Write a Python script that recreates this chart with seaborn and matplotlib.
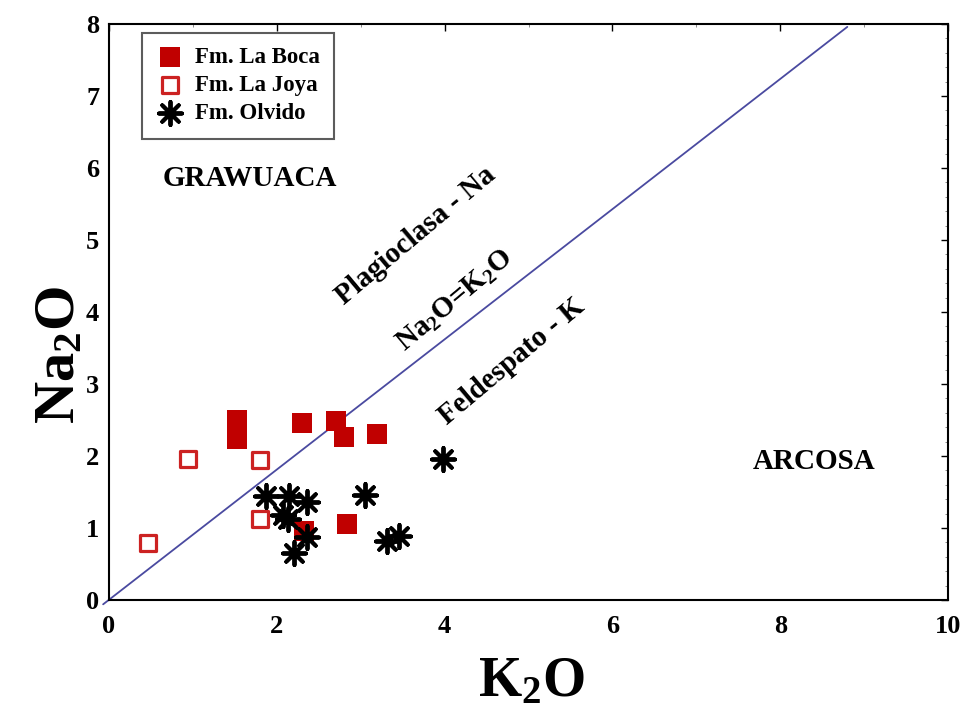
import matplotlib
matplotlib.use("Agg")
import matplotlib.pyplot as plt
import seaborn as sns
import pandas as pd
from matplotlib.ticker import MultipleLocator

# ---- data ----
boca_k2o = [1.53, 1.53, 2.30, 2.71, 2.80, 3.19, 2.32, 2.84]
boca_na2o = [2.50, 2.23, 2.46, 2.48, 2.27, 2.31, 0.96, 1.05]

joya_k2o = [0.94, 1.80, 1.80, 0.46]
joya_na2o = [1.96, 1.95, 1.12, 0.79]

olvido_k2o = [1.87, 2.14, 2.36, 3.05, 3.98, 2.07, 2.13, 2.36, 2.21, 3.31, 3.46]
olvido_na2o = [1.44, 1.45, 1.36, 1.46, 1.96, 1.18, 1.12, 0.87, 0.65, 0.82, 0.89]

line_k2o = [-0.07, 8.80]
line_na2o = [-0.06, 7.96]

x_ticks = [0, 2, 4, 6, 8, 10]
y_ticks = [0, 1, 2, 3, 4, 5, 6, 7, 8]

series_names = ["Fm. La Boca", "Fm. La Joya", "Fm. Olvido"]

sns.set_theme(style="white")
plt.rcParams["font.family"] = ["Liberation Serif", "DejaVu Serif"]
plt.rcParams["font.weight"] = "bold"
plt.rcParams["text.color"] = "black"
plt.rcParams["axes.labelcolor"] = "black"
plt.rcParams["xtick.color"] = "black"
plt.rcParams["ytick.color"] = "black"
plt.rcParams["xtick.labelcolor"] = "black"
plt.rcParams["ytick.labelcolor"] = "black"
plt.rcParams["mathtext.fontset"] = "custom"
plt.rcParams["mathtext.rm"] = "Liberation Serif:bold"
plt.rcParams["mathtext.it"] = "Liberation Serif:bold"
plt.rcParams["mathtext.bf"] = "Liberation Serif:bold"
plt.rcParams["mathtext.default"] = "rm"

fig = plt.figure(figsize=(9.65, 7.09), dpi=100)
ax = fig.add_axes([109 / 965, 1 - 600 / 709, (948 - 109) / 965, (600 - 24) / 709])

df_line = pd.DataFrame({"K2O": line_k2o, "Na2O": line_na2o})
sns.lineplot(data=df_line, x="K2O", y="Na2O", ax=ax, color="#4a4aa0",
             linewidth=1.3, sort=False, clip_on=False, zorder=2)

df_boca = pd.DataFrame({"K2O": boca_k2o, "Na2O": boca_na2o})
df_joya = pd.DataFrame({"K2O": joya_k2o, "Na2O": joya_na2o})
df_olv = pd.DataFrame({"K2O": olvido_k2o, "Na2O": olvido_na2o})

sns.scatterplot(data=df_boca, x="K2O", y="Na2O", ax=ax, marker="s", s=210,
                color="#c00000", edgecolor="#c00000", linewidth=0,
                label=series_names[0], zorder=3)
sns.scatterplot(data=df_joya, x="K2O", y="Na2O", ax=ax, marker="s", s=140,
                facecolor="white", edgecolor="#cc2222", linewidth=2.3,
                label=series_names[1], zorder=3)
sns.scatterplot(data=df_olv, x="K2O", y="Na2O", ax=ax, marker=(8, 2, 0), s=280,
                color="black", edgecolor="black", linewidth=2.8,
                label=series_names[2], zorder=4)

ax.set_xlim(0, 10)
ax.set_ylim(0, 8)
ax.set_xticks(x_ticks)
ax.set_yticks(y_ticks)
ax.xaxis.set_minor_locator(MultipleLocator(1))
ax.yaxis.set_minor_locator(MultipleLocator(0.2))
ax.tick_params(axis="both", which="major", direction="in", length=5, width=1,
               labelsize=19, top=True, right=True, color="black",
               labelcolor="black")
ax.tick_params(axis="both", which="minor", direction="in", length=2.5, width=0.6,
               top=True, right=True, color="#777777")
ax.tick_params(axis="x", which="major", pad=11)
ax.tick_params(axis="y", which="major", pad=7)
for lab in ax.get_xticklabels() + ax.get_yticklabels():
    lab.set_fontweight("bold")

for sp in ax.spines.values():
    sp.set_color("black")
    sp.set_linewidth(1.5)

ax.set_xlabel("K$_2$O", fontsize=40, fontweight="bold", va="center", color="black")
ax.set_ylabel("Na$_2$O", fontsize=42, fontweight="bold", va="center", color="black")
ax.xaxis.set_label_coords(0.504, -0.142)
ax.yaxis.set_label_coords(-0.058, 0.425)

txt = dict(fontsize=21, fontweight="bold", color="black", ha="center", va="center")
ax.text(1.68, 5.86, "GRAWUACA", **txt)
ax.text(8.41, 1.92, "ARCOSA", **txt)
rot = dict(rotation=40, rotation_mode="anchor")
ax.text(3.65, 5.06, "Plagioclasa - Na", **txt, **rot)
ax.text(4.12, 4.16, "Na$_2$O=K$_2$O", **txt, **rot)
ax.text(4.80, 3.32, "Feldespato - K", **txt, **rot)

leg = ax.legend(loc="upper left", bbox_to_anchor=(0.039, 0.984), borderaxespad=0,
                frameon=True, fancybox=False, prop={"size": 16.5, "weight": "bold"},
                handletextpad=0.5, labelspacing=0.3, borderpad=0.62,
                handlelength=1.2)
leg.get_frame().set_edgecolor("#333333")
leg.get_frame().set_linewidth(1.5)
for t in leg.get_texts():
    t.set_color("black")

fig.savefig("out.png", dpi=100, facecolor="white")
